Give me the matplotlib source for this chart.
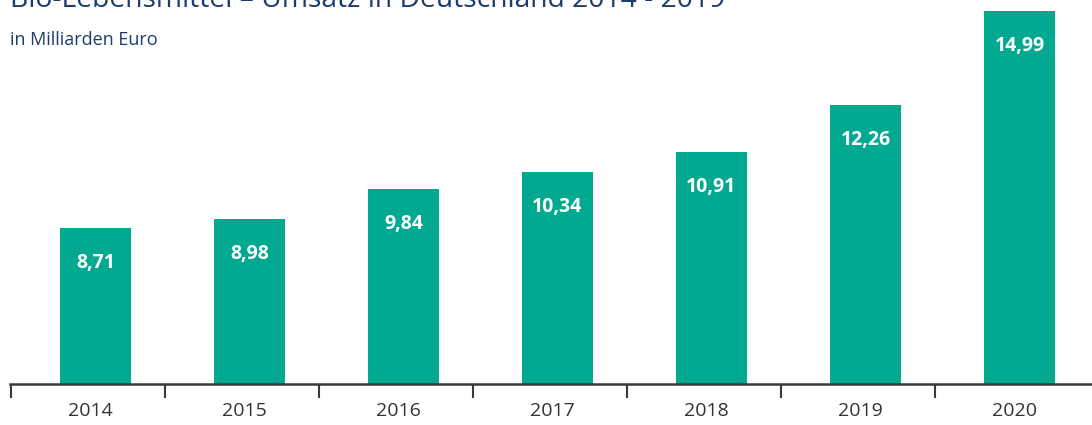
import matplotlib.pyplot as plt
import numpy as np

years = ["2014", "2015", "2016", "2017", "2018", "2019", "2020"]
umsatz = [8.71, 8.98, 9.84, 10.34, 10.91, 12.26, 14.99]

TITLE = "Bio-Lebensmittel – Umsatz in Deutschland 2014 - 2019"
SUBTITLE = "in Milliarden Euro"

GREEN = "#00A990"
NAVY = "#1B3C6E"
AXIS = "#3a3a3a"

plt.rcParams["font.family"] = ["Open Sans", "DejaVu Sans"]

fig = plt.figure(figsize=(10.92, 4.25), dpi=100)
ax = fig.add_axes([10 / 1092, 1 - 384 / 425, 1 - 10 / 1092, 384 / 425])

x = np.arange(len(years))
ax.bar(x, umsatz, width=0.46, color=GREEN, zorder=2)

for xi, v in zip(x, umsatz):
    ax.annotate(f"{v:.2f}".replace(".", ","), (xi, v), xytext=(0, -18),
                textcoords="offset points", ha="center", va="top",
                color="white", fontsize=14, fontweight="bold")

# bars do not start at zero in the original graphic
ax.set_xlim(-0.555, 6.471)
ax.set_ylim(4.2, 15.31)

for s in ("top", "right", "left"):
    ax.spines[s].set_visible(False)
ax.spines["bottom"].set_color(AXIS)
ax.spines["bottom"].set_linewidth(1.8)
ax.set_yticks([])

ax.set_xticks(np.arange(len(years)) - 0.55, minor=True)
ax.tick_params(axis="x", which="minor", length=10, width=1.5, color=AXIS)
ax.set_xticks(x - 0.03)
ax.set_xticklabels(years, fontsize=14, color="#333333")
ax.tick_params(axis="x", which="major", length=0, pad=13)

fig.text(10 / 1092, 1 - 7 / 425, TITLE, ha="left", va="baseline",
         fontsize=20.3, color=NAVY)
fig.text(10 / 1092, 1 - 45 / 425, SUBTITLE, ha="left", va="baseline",
         fontsize=13, color=NAVY)

fig.savefig("out.png", dpi=100)
